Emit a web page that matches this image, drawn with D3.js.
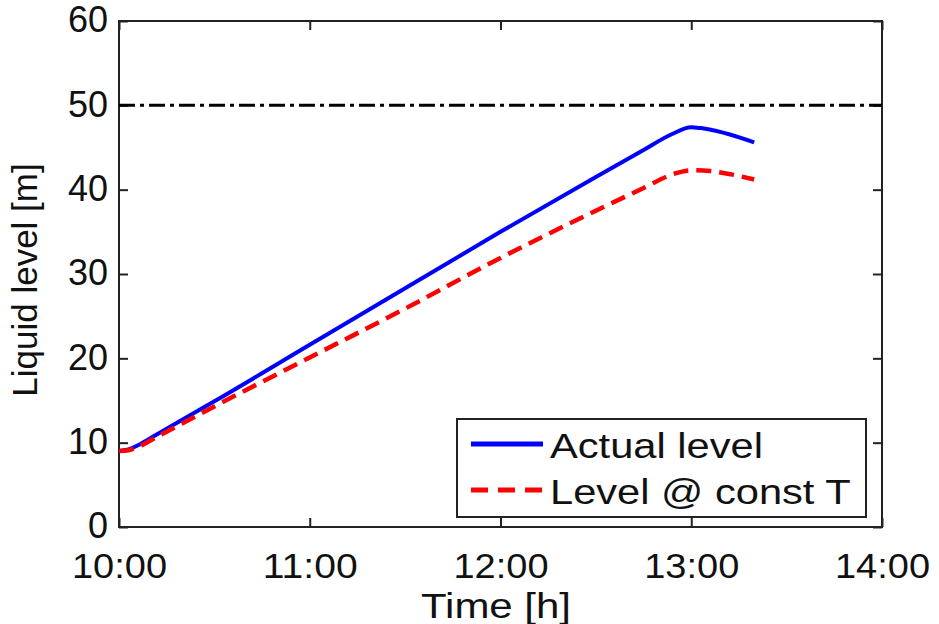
<!DOCTYPE html>
<html><head><meta charset="utf-8">
<script src="https://cdn.jsdelivr.net/npm/d3@7"></script>
<style>body{margin:0;background:#fff}svg{display:block}text{font-family:"Liberation Sans",Arial,sans-serif;fill:#111}</style>
</head><body>
<svg id="c" width="939" height="624"></svg>
<script>
// hours after 10:00
const actualTime  = [0, 0.05, 0.1, 0.2, 0.5, 1.0, 1.5, 2.0, 2.5, 2.75, 2.9, 3.0, 3.05, 3.33];
const actualLevel = [9.0, 9.2, 9.7, 11.0, 14.9, 21.6, 28.3, 35.0, 41.5, 44.7, 46.6, 47.4, 47.3, 45.6];
const constTime   = [0, 0.05, 0.1, 0.2, 0.5, 1.0, 1.5, 2.0, 2.5, 2.75, 2.9, 3.0, 3.1, 3.33];
const constLevel  = [9.0, 9.1, 9.5, 10.7, 14.3, 20.1, 25.9, 31.9, 37.5, 40.2, 41.8, 42.3, 42.2, 41.2];
const limitLevel = 50;
const xTickValues = [0, 1, 2, 3, 4];
const xTickLabels = ["10:00", "11:00", "12:00", "13:00", "14:00"];
const yTickValues = [0, 10, 20, 30, 40, 50, 60];
const legendLabels = ["Actual level", "Level @ const T"];

const svg = d3.select("#c");
const L = 119, R = 882, T = 21, B = 527;
const x = d3.scaleLinear().domain([0, 4]).range([L, R]);
const y = d3.scaleLinear().domain([0, 60]).range([B, T]);

// frame
svg.append("rect").attr("x", L).attr("y", T).attr("width", R - L).attr("height", B - T)
  .attr("fill", "none").attr("stroke", "#222").attr("stroke-width", 2);

const tl = 9;
// axes (inward ticks)
const xb = svg.append("g").attr("transform", `translate(0,${B})`)
  .call(d3.axisBottom(x).tickValues(xTickValues).tickFormat((d, i) => xTickLabels[i]).tickSizeInner(-tl).tickSizeOuter(0).tickPadding(tl + 17));
const xt = svg.append("g").attr("transform", `translate(0,${T})`)
  .call(d3.axisTop(x).tickValues(xTickValues).tickFormat("").tickSizeInner(-tl).tickSizeOuter(0));
const yl = svg.append("g").attr("transform", `translate(${L},0)`)
  .call(d3.axisLeft(y).tickValues(yTickValues).tickSizeInner(-tl).tickSizeOuter(0).tickPadding(tl + 2));
const yr = svg.append("g").attr("transform", `translate(${R},0)`)
  .call(d3.axisRight(y).tickValues(yTickValues).tickFormat("").tickSizeInner(-tl).tickSizeOuter(0));
[xb, xt, yl, yr].forEach(g => {
  g.select(".domain").remove();
  g.selectAll(".tick line").attr("stroke", "#222").attr("stroke-width", 2);
  g.selectAll(".tick text").attr("font-size", 36).attr("fill", "#111")
   .style("font-family", '"Liberation Sans",Arial,sans-serif');
});
yl.selectAll(".tick text").attr("dy", "0.3em").attr("font-size", 36);
xb.selectAll(".tick text").attr("font-size", 35).attr("textLength", 95).attr("lengthAdjust", "spacingAndGlyphs");

// limit line
svg.append("line").attr("x1", x(0)).attr("x2", x(4)).attr("y1", y(limitLevel)).attr("y2", y(limitLevel))
  .attr("stroke", "#000").attr("stroke-width", 3).attr("stroke-dasharray", "16,5,4,5");

const line = d3.line().x(d => x(d[0])).y(d => y(d[1])).curve(d3.curveMonotoneX);
svg.append("path").datum(actualTime.map((t, i) => [t, actualLevel[i]]))
  .attr("d", line).attr("fill", "none").attr("stroke", "#0000ff").attr("stroke-width", 4);
svg.append("path").datum(constTime.map((t, i) => [t, constLevel[i]]))
  .attr("d", line).attr("fill", "none").attr("stroke", "#ff0000").attr("stroke-width", 4.5)
  .attr("stroke-dasharray", "15,8");

// legend
const lg = svg.append("g");
lg.append("rect").attr("x", 457).attr("y", 419).attr("width", 409).attr("height", 98)
  .attr("fill", "#fff").attr("stroke", "#222").attr("stroke-width", 2);
const styles = [{c: "#0000ff", d: null}, {c: "#ff0000", d: "17,10"}];
legendLabels.forEach((lab, i) => {
  const yy = 444 + i * 46;
  const ln = lg.append("line").attr("x1", 471).attr("x2", 543).attr("y1", yy).attr("y2", yy)
    .attr("stroke", styles[i].c).attr("stroke-width", 5);
  if (styles[i].d) ln.attr("stroke-dasharray", styles[i].d);
  lg.append("text").attr("transform", `translate(550,${yy + 14}) scale(1.19,1)`)
    .attr("font-size", 35).text(lab);
});

// axis titles
svg.append("text").attr("transform", `translate(496,618) scale(1.2,1)`).attr("text-anchor", "middle")
  .attr("font-size", 35).text("Time [h]");
svg.append("text").attr("transform", `translate(37,${(163 + 397) / 2}) rotate(-90)`)
  .attr("text-anchor", "middle").attr("font-size", 35).text("Liquid level [m]");
</script>
</body></html>
